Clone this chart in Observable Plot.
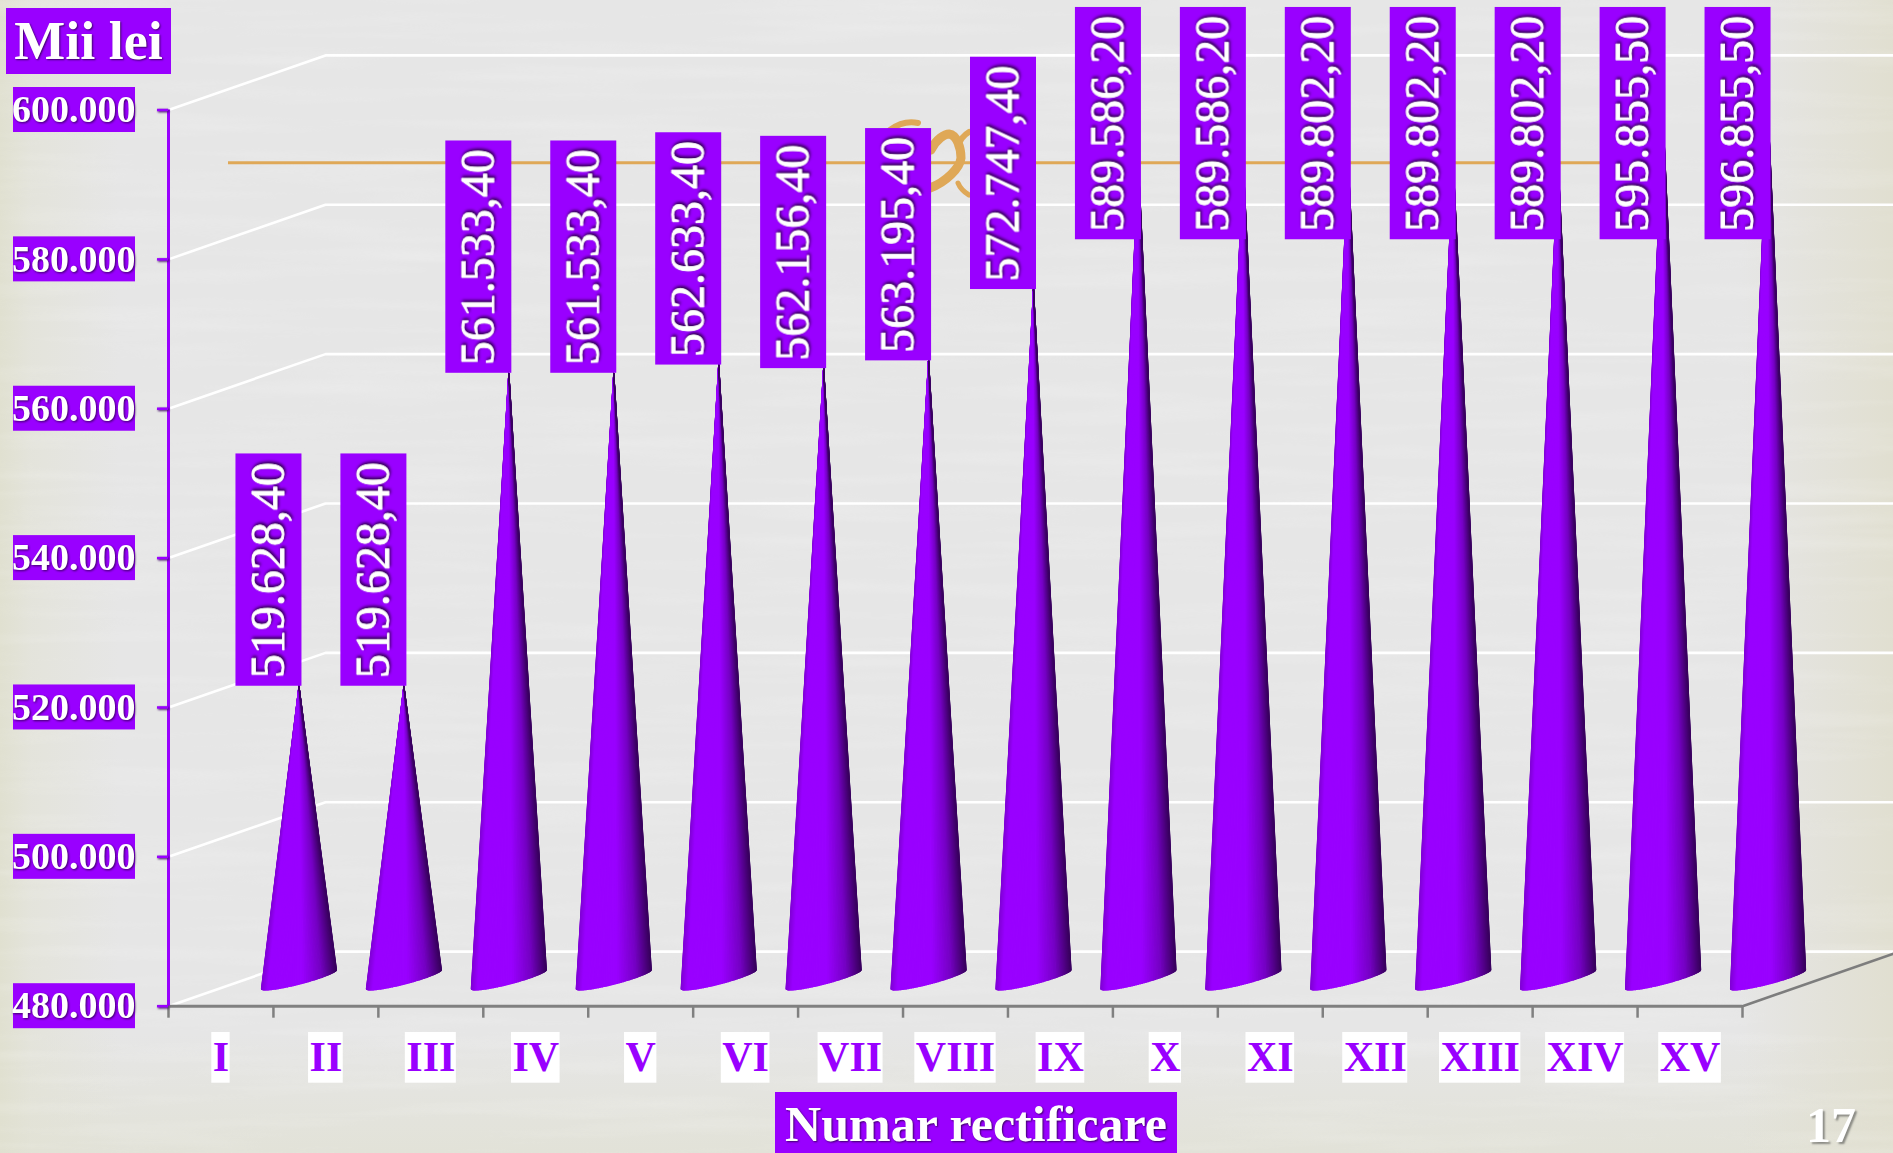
<!DOCTYPE html>
<html>
<head>
<meta charset="utf-8">
<script src="https://cdn.jsdelivr.net/npm/d3@7"></script>
<script src="https://cdn.jsdelivr.net/npm/@observablehq/plot@0.6"></script>
<style>
  html, body { margin: 0; padding: 0; width: 1893px; height: 1153px; overflow: hidden; }
  body {
    position: relative;
    font-family: "Liberation Serif", serif;
    background:
      linear-gradient(90deg, #e0e0d0 0, rgba(226,226,212,0.6) 30px, rgba(229,229,229,0) 120px, rgba(229,229,229,0) 1740px, rgba(224,222,206,0.9) 1893px),
      linear-gradient(0deg, #e2e2d8 0, rgba(229,229,229,0) 120px),
      #e6e6e6;
  }
  #decor, #chart { position: absolute; left: 0; top: 0; }
  .tag { position: absolute; background: #9900ff; color: #fff; font-weight: bold; white-space: nowrap; text-align: center;
         text-shadow: 1px 1px 2px #3d0066; }
  #pageno { position: absolute; left: 1806px; top: 1097px; font-size: 50px; line-height: 56px; color: #fff; font-weight: bold;
         text-shadow: 2px 2px 2px #8a8a84; }
</style>
</head>
<body>
<svg id="decor" width="1893" height="1153" aria-hidden="true">
  <filter id="paper" x="0" y="0" width="100%" height="100%">
    <feTurbulence type="fractalNoise" baseFrequency="0.004 0.06" numOctaves="3" seed="4"/>
    <feColorMatrix values="0 0 0 0 1  0 0 0 0 1  0 0 0 0 1  1.6 0 0 0 -0.72"/>
  </filter>
  <rect width="1893" height="1153" filter="url(#paper)" opacity="0.22"/>
  <g fill="none" stroke="#dfa857" stroke-linecap="round">
    <path d="M228 162.7H1620" stroke-width="3" stroke-linecap="butt"/>
    <path d="M890 130C898 124 908 121 918 123" stroke-width="6"/>
    <path d="M931 150C936 139 945 134 949 134C957 135 961 148 961 158C960 168 946 182 930 188" stroke-width="9"/>
    <path d="M969 132C964 135 960 140 958 146" stroke-width="6"/>
    <path d="M958 183C960 188 964 192 969 195" stroke-width="5"/>
  </g>
</svg>
<div id="chart"></div>
<div class="tag" style="left:6px;top:8px;width:165px;height:66px;line-height:66px;font-size:54px;">Mii lei</div>
<div class="tag" style="left:775px;top:1092px;width:402px;height:59px;padding-top:2px;line-height:61px;font-size:50px;">Numar rectificare</div>
<div id="pageno">17</div>
<script>
// Data
const rectifications = ["I","II","III","IV","V","VI","VII","VIII","IX","X","XI","XII","XIII","XIV","XV"];
const amounts = [519628.4, 519628.4, 561533.4, 561533.4, 562633.4, 562156.4, 563195.4, 572747.4,
                 589586.2, 589586.2, 589802.2, 589802.2, 589802.2, 595855.5, 596855.5];
const yTicks = [480000, 500000, 520000, 540000, 560000, 580000, 600000];

// Look
const purple = "#9900ff", grey = "#808080";
const font = "Liberation Serif";
const deLocale = d3.formatLocale({decimal: ",", thousands: ".", grouping: [3], currency: ["", ""]});
const fmtTick = deLocale.format(",.0f"), fmtValue = deLocale.format(",.2f");

// Scale geometry
const yMin = 480000, yMax = 600000;
const pxPerUnit = 896.2 / (yMax - yMin), pxPerCat = 1574 / 15;
const depthX = 157 / pxPerCat, depthY = 54.6 / pxPerUnit; // back wall offset, data units
const rightEnd = (1893 - 168) / pxPerCat;
const offX = 78, offY = -24;                 // cone plane offset, pixels
const labelCeiling = 579411;                 // labels stop rising at the top of the page

// Walls
const gridLines = yTicks.flatMap((t) => [
  {t, x: 0, y: t}, {t, x: depthX, y: t + depthY}, {t, x: rightEnd, y: t + depthY}
]);

// Cones as fans of shaded wedges
const shade = d3.scaleLinear()
  .domain([-1, -0.82, 0.1, 0.6, 1])
  .range(["#7f00d4", purple, purple, "#7500c4", "#3a0060"]);
const nW = 60;
const coneBase = (i, th) => ({
  x: i + 0.5 + (37.5 / pxPerCat) * Math.cos(th),
  y: yMin + (3 + 9.5 * Math.cos(th) - 5 * Math.sin(th)) / pxPerUnit
});
const wedges = [];
amounts.forEach((v, i) => {
  for (let k = 0; k < nW; k++) {
    const a = Math.PI * (1 - k / nW), b = Math.PI * (1 - (k + 1) / nW);
    const id = `${i}-${k}`, c = shade(Math.cos((a + b) / 2));
    wedges.push({id, c, x: i + 0.5, y: v});
    wedges.push({id, c, ...coneBase(i, a)});
    wedges.push({id, c, ...coneBase(i, b)});
    wedges.push({id, c, x: i + 0.5, y: v});
  }
});

const rows = rectifications.map((name, i) => ({
  name, i, v: amounts[i], labelY: Math.min(amounts[i], labelCeiling)
}));

// Rough bold widths of the roman letters, for the white plates
const catFont = 42;
const charW = {I: 0.389, V: 0.722, X: 0.722};
const plateW = (s) => [...s].reduce((a, c) => a + charW[c] * catFont, 0) + 2;

const chart = Plot.plot({
  width: 1893, height: 1153,
  marginLeft: 168, marginRight: 151, marginTop: 109.5, marginBottom: 147.3,
  style: {background: "transparent", fontFamily: font, overflow: "visible"},
  x: {type: "linear", domain: [0, 15], axis: null},
  y: {type: "linear", domain: [yMin, yMax], axis: null},
  marks: [
    // walls
    Plot.line(gridLines, {x: "x", y: "y", z: "t", stroke: "white", strokeWidth: 2.6}),
    Plot.line([[15, yMin], [15 + depthX, yMin + depthY]], {stroke: "#7d7d7d", strokeWidth: 2.5}),
    // axis lines and ticks
    Plot.ruleY([yMin], {x1: 0, x2: 15, stroke: grey, strokeWidth: 3}),
    Plot.axisX(d3.range(0, 16), {tickSize: 12, stroke: grey, strokeWidth: 2.5, tickFormat: () => null, label: null}),
    Plot.ruleX([0], {y1: yMin, y2: yMax, stroke: purple, strokeWidth: 3}),
    // cones
    Plot.line(wedges, {
      x: "x", y: "y", z: "id",
      fill: {value: "c", scale: null}, stroke: {value: "c", scale: null},
      strokeWidth: 1.2, strokeLinejoin: "round", dx: offX, dy: offY
    }),
    // y axis plates and labels
    Plot.rect(yTicks, {
      x1: 0, x2: 0, y1: (d) => d, y2: (d) => d,
      insetLeft: -155, insetRight: 33, insetTop: -22.5, insetBottom: -22.5, fill: purple
    }),
    Plot.axisY(yTicks, {
      tickSize: 11, tickPadding: 22, stroke: purple, strokeWidth: 2.5, fill: "white",
      fontSize: 38, fontWeight: "bold", tickFormat: fmtTick, label: null,
      imageFilter: "drop-shadow(1px 1px 1px #3d0066)"
    }),
    // x axis plates and labels
    Plot.rect(rows, {
      x1: (d) => d.i + 0.5, x2: (d) => d.i + 0.5, y1: yMin, y2: yMin,
      fill: "white", insetTop: 26.3, insetBottom: -77, render: (I, s, v, d, c, next) => {
        const g = next(I, s, v, d, c);
        g.querySelectorAll("rect").forEach((r, j) => {
          const w = plateW(rows[I[j]].name);
          r.setAttribute("x", +r.getAttribute("x") - w / 2);
          r.setAttribute("width", w);
        });
        return g;
      }
    }),
    Plot.axisX(rows.map((d) => d.i + 0.5), {
      tickSize: 0, tickPadding: 35, lineAnchor: "top", fill: purple, stroke: "none",
      fontSize: catFont, fontWeight: "bold", label: null,
      tickFormat: (d) => rectifications[d - 0.5]
    }),
    // value labels
    Plot.rect(rows, {
      x1: (d) => d.i + 0.5, x2: (d) => d.i + 0.5, y1: "labelY", y2: "labelY",
      insetLeft: -63, insetRight: -3, insetTop: -232.3, insetBottom: 0,
      dx: offX, dy: offY, fill: purple
    }),
    Plot.text(rows, {
      x: (d) => d.i + 0.5, y: "labelY", text: (d) => fmtValue(d.v),
      rotate: -90, fill: "white", stroke: "white", strokeWidth: 0.8, fontSize: 48,
      textAnchor: "middle", lineAnchor: "middle",
      dx: offX - 30, dy: offY - 116,
      imageFilter: "drop-shadow(1.5px -1.5px 1.5px #30004f)"
    })
  ]
});
document.getElementById("chart").append(chart);
</script>
</body>
</html>
